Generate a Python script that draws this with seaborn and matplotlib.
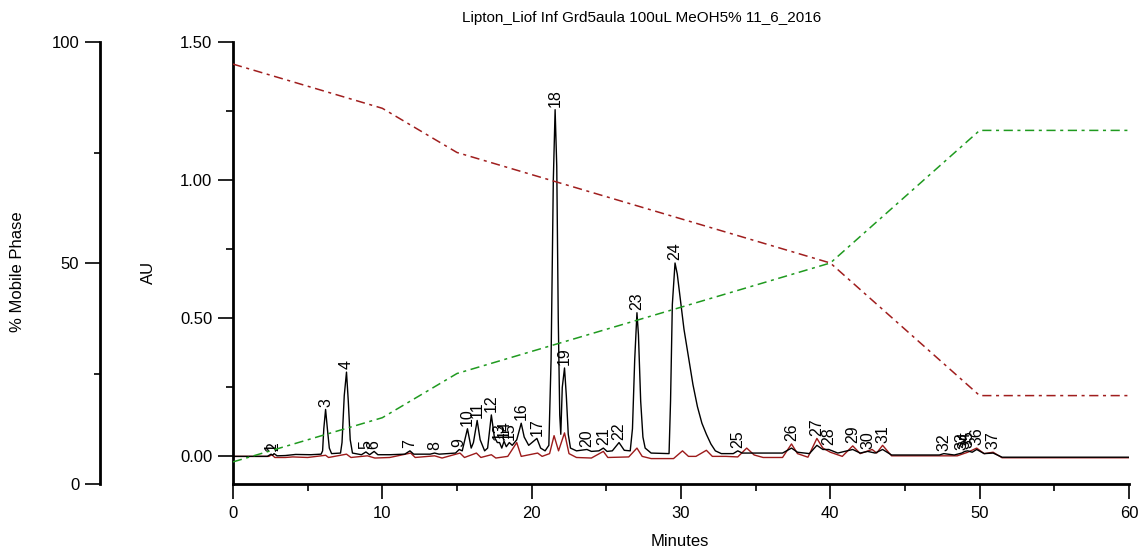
import numpy as np
import pandas as pd
import matplotlib
matplotlib.use("Agg")
import matplotlib.pyplot as plt
from matplotlib.ticker import MultipleLocator
import seaborn as sns

# ---------------- data ----------------
title = "Lipton_Liof Inf Grd5aula 100uL MeOH5% 11_6_2016"

# main detector trace (AU) as vertices (minutes, AU)
trace_time = [
    0.0, 2.3, 2.55, 2.65, 2.75, 2.95, 3.5, 4.2, 5.2, 5.9,
    6.0, 6.08, 6.2, 6.32, 6.45, 6.6,
    7.2, 7.3, 7.45, 7.6, 7.72, 7.85, 8.0,
    8.6, 8.9, 9.15, 9.45, 9.7, 10.5, 11.5, 11.85, 12.1, 13.2, 13.5, 13.8,
    14.9, 15.15, 15.35, 15.7, 15.95, 16.1, 16.35, 16.55, 16.85, 17.05, 17.3, 17.5,
    17.7, 17.85, 18.0, 18.15, 18.3, 18.5, 18.7, 19.0, 19.3, 19.5, 19.8,
    20.35, 20.6, 20.9, 21.15,
    21.3, 21.45, 21.57, 21.68, 21.78, 21.88, 21.95,
    22.05, 22.2, 22.32, 22.45, 22.6, 23.0,
    23.7, 24.0, 24.5, 24.8, 25.05, 25.4, 25.85, 26.2, 26.6,
    26.75, 26.9, 27.05, 27.15, 27.3, 27.45, 27.6, 28.0, 29.2,
    29.3, 29.42, 29.6, 29.75, 29.95, 30.2, 30.5, 30.8, 31.1, 31.4, 31.7, 32.0,
    32.3, 32.7, 33.5, 33.8, 34.1, 35.0, 36.8,
    37.4, 37.8, 38.6, 39.1, 39.5, 39.9, 40.5, 41.5, 42.0, 42.5, 43.0, 43.5,
    44.1, 47.3, 47.6, 48.3, 48.8, 49.0, 49.2, 49.5, 49.8, 50.3, 50.9, 51.5, 60.0,
]
trace_au = [
    0.000, 0.000, 0.008, 0.004, 0.010, 0.002, 0.003, 0.007, 0.006, 0.008,
    0.020, 0.100, 0.170, 0.100, 0.030, 0.010,
    0.012, 0.050, 0.220, 0.305, 0.200, 0.060, 0.012,
    0.006, 0.016, 0.006, 0.018, 0.006, 0.006, 0.008, 0.020, 0.008, 0.008, 0.012, 0.008,
    0.012, 0.025, 0.020, 0.100, 0.030, 0.050, 0.130, 0.060, 0.020, 0.030, 0.150, 0.070,
    0.050, 0.050, 0.030, 0.055, 0.035, 0.050, 0.040, 0.060, 0.120, 0.070, 0.040,
    0.065, 0.030, 0.020, 0.040,
    0.350, 1.000, 1.255, 1.050, 0.500, 0.150, 0.080,
    0.250, 0.320, 0.220, 0.080, 0.030, 0.020,
    0.025, 0.018, 0.020, 0.030, 0.018, 0.020, 0.050, 0.022, 0.020,
    0.100, 0.350, 0.520, 0.440, 0.200, 0.070, 0.030, 0.012, 0.010,
    0.200, 0.550, 0.700, 0.660, 0.570, 0.460, 0.360, 0.260, 0.180, 0.120, 0.080, 0.045,
    0.020, 0.010, 0.010, 0.020, 0.012, 0.012, 0.012,
    0.030, 0.015, 0.010, 0.040, 0.025, 0.025, 0.012, 0.025, 0.012, 0.018, 0.012, 0.025,
    0.005, 0.005, 0.010, 0.005, 0.012, 0.018, 0.020, 0.015, 0.025, 0.010, 0.012, -0.003, -0.003,
]

# second channel trace (AU)
ref_time = [
    0.0, 2.4, 2.6, 2.8, 3.5, 4.0, 5.0, 6.2, 6.4, 7.6, 7.9, 9.0, 9.5, 10.5,
    11.9, 12.2, 13.5, 14.0, 15.2, 15.5, 16.3, 16.6, 17.3, 17.6, 18.4, 19.0, 19.3,
    20.4, 20.7, 21.2, 21.5, 21.8, 22.2, 22.5, 23.0, 24.0, 24.8, 25.1, 26.5,
    27.05, 27.4, 28.0, 29.5, 30.1, 30.5, 31.0, 31.7, 32.1, 33.0, 33.8, 34.4, 34.9,
    35.5, 36.8, 37.4, 37.8, 38.5, 39.1, 39.5, 40.0, 40.8, 41.5, 42.0, 42.8, 43.1,
    43.5, 44.1, 48.5, 49.2, 49.8, 50.3, 50.9, 51.5, 60.0,
]
ref_au = [
    0.000, 0.000, 0.006, -0.004, -0.004, -0.002, -0.004, 0.004, -0.004, 0.008, -0.004, 0.002, -0.006, -0.004,
    0.012, -0.004, 0.002, -0.006, 0.012, -0.004, 0.012, -0.004, 0.006, -0.006, 0.000, 0.050, 0.000,
    0.012, 0.000, 0.010, 0.075, 0.020, 0.085, 0.010, -0.004, -0.006, 0.018, -0.004, -0.002,
    0.030, 0.000, -0.008, -0.008, 0.020, 0.000, 0.000, 0.022, 0.000, 0.000, -0.002, 0.030, 0.005,
    -0.004, -0.004, 0.045, 0.010, -0.003, 0.065, 0.030, 0.015, 0.000, 0.038, 0.010, 0.025, 0.012,
    0.040, 0.002, 0.002, 0.015, 0.030, 0.010, 0.015, -0.005, -0.005,
]

# numbered peaks: retention time and apex height used for the labels
peak_ids = [str(i) for i in range(1, 38)]
peak_times = [
    2.55, 2.75, 6.2, 7.6, 8.9, 9.45, 11.85, 13.5, 15.15, 15.7,
    16.35, 17.3, 17.85, 18.15, 18.5, 19.3, 20.35, 21.57, 22.2, 23.7,
    24.8, 25.85, 27.05, 29.6, 33.8, 37.4, 39.1, 39.9, 41.5, 42.5,
    43.5, 47.6, 48.8, 49.0, 49.2, 49.8, 50.9,
]
peak_heights = [
    0.008, 0.010, 0.170, 0.305, 0.016, 0.018, 0.020, 0.012, 0.025, 0.100,
    0.130, 0.150, 0.050, 0.055, 0.050, 0.120, 0.065, 1.255, 0.320, 0.025,
    0.030, 0.050, 0.520, 0.700, 0.020, 0.045, 0.065, 0.030, 0.038, 0.018,
    0.040, 0.010, 0.012, 0.018, 0.020, 0.030, 0.015,
]

# mobile phase gradient (% of each solvent)
grad_time = [0, 10, 15, 40, 50, 60]
grad_a = [95, 85, 75, 50, 20, 20]
grad_b = [5, 15, 25, 50, 80, 80]

# ---------------- style ----------------
sns.set_style("ticks")
plt.rcParams["font.family"] = ["Liberation Sans", "DejaVu Sans"]
plt.rcParams.update({
    "axes.linewidth": 2.0,
    "axes.edgecolor": "black",
    "xtick.color": "black",
    "ytick.color": "black",
    "text.color": "black",
    "axes.labelcolor": "black",
})

W, H = 1147, 554
fig = plt.figure(figsize=(W / 100, H / 100), dpi=100)
fig.patch.set_facecolor("white")

x0, x1, y0, y1 = 233, 1129, 42, 484
ax = fig.add_axes([x0 / W, 1 - y1 / H, (x1 - x0) / W, (y1 - y0) / H])
ax.set_facecolor("none")

trace_df = pd.DataFrame({"Minutes": trace_time, "AU": trace_au})
ref_df = pd.DataFrame({"Minutes": ref_time, "AU": ref_au})

sns.lineplot(data=ref_df, x="Minutes", y="AU", ax=ax, color="#9c1a1a",
             lw=1.0, estimator=None, sort=False, zorder=2)
sns.lineplot(data=trace_df, x="Minutes", y="AU", ax=ax, color="black",
             lw=1.0, estimator=None, sort=False, zorder=3)

for lbl, t, h in zip(peak_ids, peak_times, peak_heights):
    ax.annotate(lbl, (t, h), xytext=(0, 2), textcoords="offset points",
                rotation=90, ha="center", va="bottom", fontsize=11.5,
                color="black", zorder=4)

ax.set_xlim(0, 60)
ax.set_ylim(-0.1, 1.5)
ax.set_xlabel("")
ax.set_ylabel("")
ax.xaxis.set_major_locator(MultipleLocator(10))
ax.xaxis.set_minor_locator(MultipleLocator(5))
ax.yaxis.set_minor_locator(MultipleLocator(0.25))
ax.set_yticks([0, 0.5, 1.0, 1.5])
ax.set_yticklabels(["0.00", "0.50", "1.00", "1.50"])
ax.tick_params(axis="both", which="major", length=11, width=1.2,
               labelsize=12, direction="out", color="black")
ax.tick_params(axis="both", which="minor", length=5, width=1.2,
               direction="out", color="black")
ax.tick_params(axis="x", which="major", pad=5)
ax.tick_params(axis="y", which="major", pad=4)
for side in ("top", "right"):
    ax.spines[side].set_visible(False)

# gradient axis on the far left
ax2 = ax.twinx()
ax2.set_facecolor("none")
gdf = pd.DataFrame({"t": grad_time, "a": grad_a, "b": grad_b})
sns.lineplot(data=gdf, x="t", y="a", ax=ax2, color="#a01e1e", lw=1.1,
             estimator=None, sort=False)
sns.lineplot(data=gdf, x="t", y="b", ax=ax2, color="#1f9a1f", lw=1.1,
             estimator=None, sort=False)
for ln in ax2.get_lines():
    ln.set_dashes([6, 3, 2, 3])
ax2.set_ylim(0, 100)
ax2.set_xlim(0, 60)
ax2.set_xlabel("")
ax2.set_ylabel("")
ax2.yaxis.tick_left()
ax2.spines["left"].set_position(("axes", -(233 - 100) / (x1 - x0)))
for side in ("top", "right", "bottom"):
    ax2.spines[side].set_visible(False)
ax2.spines["left"].set_visible(True)
ax2.yaxis.set_major_locator(MultipleLocator(50))
ax2.yaxis.set_minor_locator(MultipleLocator(25))
ax2.tick_params(axis="y", which="major", length=11, width=1.2, labelsize=12, pad=4)
ax2.tick_params(axis="y", which="minor", length=4, width=1.2)

fig.text(642 / W, 1 - 18 / H, title, ha="center", va="center", fontsize=11)
fig.text(680 / W, 1 - 541 / H, "Minutes", ha="center", va="center", fontsize=12)
fig.text(148 / W, 1 - 272 / H, "AU", ha="center", va="center", fontsize=12, rotation=90)
fig.text(18 / W, 1 - 272 / H, "% Mobile Phase", ha="center", va="center",
         fontsize=12, rotation=90)

fig.savefig("out.png", dpi=100, facecolor="white")
